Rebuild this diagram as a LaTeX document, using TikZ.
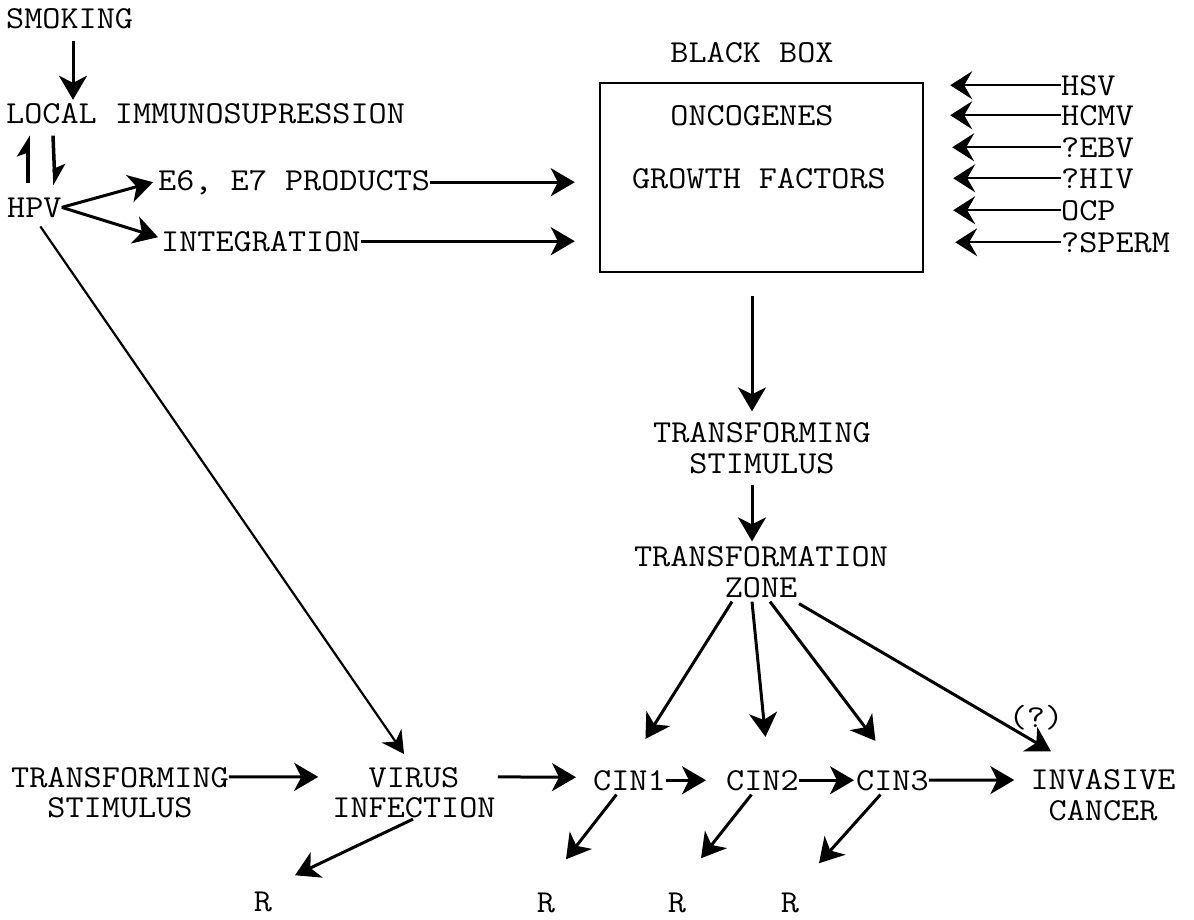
\documentclass[tikz,border=0pt]{standalone}
\usepackage{fontspec}
\setmonofont{Latin Modern Mono}[FakeStretch=1.1]
\usetikzlibrary{arrows.meta,calc}
\begin{document}
\begin{tikzpicture}[x=1pt,y=-1pt,
  lbl/.style={inner sep=0pt, font=\ttfamily\fontsize{32}{30.5}\selectfont},
  ml/.style={lbl, align=center},
  arr/.style={line width=3pt, -{Stealth[length=24pt,width=28pt,inset=7pt]}},
  tarr/.style={line width=2pt, -{Stealth[length=22pt,width=28pt,inset=8pt]}},
  harp/.style={line width=3.5pt, -{Stealth[harpoon,length=18pt,width=22pt,inset=4pt]}},
  thinl/.style={line width=2.2pt, -{Stealth[length=22pt,width=24pt,inset=7pt]}},
  boxst/.style={draw, line width=2.4pt, minimum width=323pt, minimum height=189pt, inner sep=0pt}
]
\useasboundingbox[fill=white] (0,0) rectangle (1194,919);

% top-left
\node[lbl, anchor=base west] (smoking) at (6,28) {SMOKING};
\node[lbl, anchor=base west] (local) at (6,123) {LOCAL IMMUNOSUPRESSION};
\node[lbl, anchor=base west] (hpv) at (7,217) {HPV};
\node[lbl, anchor=base west] (e6) at (158,190) {E6, E7 PRODUCTS};
\node[lbl, anchor=base west] (integ) at (161,251) {INTEGRATION};

% black box
\node[lbl, anchor=base] (bbl) at (752,62) {BLACK BOX};
\node[boxst] (box) at (761.5,177.5) {};
\node[lbl, anchor=base] (oncog) at (752,125) {ONCOGENES};
\node[lbl, anchor=base] (growth) at (759,188) {GROWTH FACTORS};

% right factors
\node[lbl, anchor=base west] (hsv) at (1061,95) {HSV};
\node[lbl, anchor=base west] (hcmv) at (1061,125) {HCMV};
\node[lbl, anchor=base west] (ebv) at (1061,157) {?EBV};
\node[lbl, anchor=base west] (hiv) at (1061,188) {?HIV};
\node[lbl, anchor=base west] (ocp) at (1061,220) {OCP};
\node[lbl, anchor=base west] (sperm) at (1061,252) {?SPERM};

% middle column
\node[ml] (ts) at (762,448) {TRANSFORMING\\STIMULUS};
\node[ml] (tz) at (761,572) {TRANSFORMATION\\ZONE};

% bottom row
\node[ml] (tsl) at (120,792.5) {TRANSFORMING\\STIMULUS};
\node[ml] (virus) at (414,792.5) {VIRUS\\INFECTION};
\node[lbl, anchor=base west] (cin1) at (593,790) {CIN1};
\node[lbl, anchor=base west] (cin2) at (726,790) {CIN2};
\node[lbl, anchor=base west] (cin3) at (856,790) {CIN3};
\node[ml] (inv) at (1103,795) {INVASIVE\\CANCER};
\node[lbl, anchor=base] (q) at (1036,727) {(?)};

% R
\node[lbl, anchor=base] (r1) at (263,911) {R};
\node[lbl, anchor=base] (r2) at (546,912) {R};
\node[lbl, anchor=base] (r3) at (677,912) {R};
\node[lbl, anchor=base] (r4) at (790,912) {R};

% connectors top-left
\draw[arr] ($(smoking.south west)+(67,12)$) -- ($(local.north west)+(67,-3)$);
\draw[harp] ($(hpv.north west)+(21,-14)$) -- ($(local.south west)+(22,12)$);
\draw[harp] ($(local.south west)+(47,12)$) -- ($(hpv.north west)+(48,-12)$);
\draw[arr] (hpv.east) -- ($(e6.west)+(-5,0)$);
\draw[arr] (hpv.east) -- ($(integ.west)+(-3,-4)$);
\draw[arr] (e6.east) -- ($(e6.east -| box.west)+(-24,0)$);
\draw[arr] (integ.east) -- ($(integ.east -| box.west)+(-24,0)$);

% right factors
\draw[tarr] (hsv.west) -- ($(hsv.west -| box.east)+(26,0)$);
\draw[tarr] (hcmv.west) -- ($(hcmv.west -| box.east)+(26,0)$);
\draw[tarr] (ebv.west) -- ($(ebv.west -| box.east)+(28,0)$);
\draw[tarr] (hiv.west) -- ($(hiv.west -| box.east)+(29,0)$);
\draw[tarr] (ocp.west) -- ($(ocp.west -| box.east)+(29,0)$);
\draw[tarr] (sperm.west) -- ($(sperm.west -| box.east)+(31,0)$);

% middle column
\draw[arr] ($(box.south)+(-9.5,23)$) -- ($(ts.north)+(-10,-11)$);
\draw[arr] ($(ts.south)+(-10,11)$) -- ($(tz.north)+(-9,-5)$);

% zone fan
\draw[arr] ($(tz.south)+(-29,4)$) -- ($(cin1.north)+(16,-31)$);
\draw[arr] ($(tz.south)+(-9,4)$) -- ($(cin2.north)+(3,-33)$);
\draw[arr] ($(tz.south)+(9,4)$) -- ($(cin3.north)+(-17,-29)$);
\draw[arr] ($(tz.south)+(38,6)$) -- ($(inv.north)+(-52,-18)$);

% HPV to virus infection
\draw[thinl] ($(hpv.south)+(6,9)$) -- ($(virus.north)+(-10,-13)$);

% bottom row
\draw[arr] ($(tsl.north east)+(0,10)$) -- ($(virus.north west)+(-14,10)$);
\draw[arr] ($(virus.north east)+(2,10)$) -- ($(cin1.west)+(-17,-3)$);
\draw[arr] (cin1.east) -- ($(cin2.west)+(-20,0)$);
\draw[arr] (cin2.east) -- ($(cin3.west)+(-2,0)$);
\draw[arr] (cin3.east) -- ($(inv.west)+(-16,-15)$);

% regression arrows
\draw[arr] ($(virus.south)+(-1,1)$) -- ($(r1.north)+(32,-16)$);
\draw[arr] ($(cin1.south)+(-13,4)$) -- ($(r2.north)+(20,-33)$);
\draw[arr] ($(cin2.south)+(-11,4)$) -- ($(r3.north)+(24,-34)$);
\draw[arr] ($(cin3.south)+(-12,4)$) -- ($(r4.north)+(29,-29)$);
\end{tikzpicture}
\end{document}
